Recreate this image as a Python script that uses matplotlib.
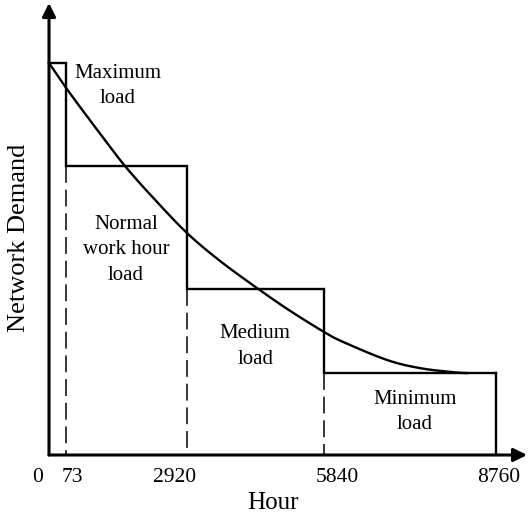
import numpy as np
import matplotlib
matplotlib.use("Agg")
import matplotlib.pyplot as plt
from matplotlib.scale import FuncScale
from matplotlib.transforms import ScaledTranslation

# ---- data ----
tick_hours = [0, 73, 2920, 5840, 8760]
tick_labels = ["0", "73", "2920", "5840", "8760"]
# schematic (non-proportional) display positions of the tick hours (fraction of axis)
tick_display = [0.0, 0.038, 0.309, 0.616, 1.0]

step_hours = [0, 73, 2920, 5840, 8760]
step_levels = [87.1, 64.2, 36.9, 18.2, 18.2]

curve_hours = [0, 73, 755, 1461, 2167, 2920, 3623, 4433,
               5116, 5840, 6163, 6909, 7470, 8030, 8268]
curve_demand = [87.1, 81.6, 72.9, 64.2, 56.7, 49.3, 43.1, 36.9,
                32.0, 27.3, 25.1, 21.1, 19.3, 18.4, 18.2]

region_labels = ["Maximum\nload", "Normal\nwork hour\nload", "Medium\nload", "Minimum\nload"]
region_label_hours = [1290, 1485, 4370, 7380]
region_label_levels = [82.0, 45.6, 24.1, 9.6]

# ---- figure ----
W, H = 528, 517
fig = plt.figure(figsize=(W / 100, H / 100), dpi=100)
ax = fig.add_axes([49 / W, (H - 455) / H, (496 - 49) / W, 450 / H])


def fwd(x):
    x = np.asarray(x, dtype=float)
    out = np.interp(x, tick_hours, tick_display)
    out = np.where(x > 8760, 1.0 + (x - 8760) / 8760, out)
    out = np.where(x < 0, x / 73 * 0.038, out)
    return out


def inv(y):
    y = np.asarray(y, dtype=float)
    out = np.interp(y, tick_display, tick_hours)
    out = np.where(y > 1.0, 8760 + (y - 1.0) * 8760, out)
    out = np.where(y < 0, y / 0.038 * 73, out)
    return out


ax.set_xscale(FuncScale(ax, (fwd, inv)))
ax.set_xlim(0, 8760)
ax.set_ylim(0, 100)

serif = ["Liberation Serif", "DejaVu Serif"]
lw = 1.7

# step function
ax.step(step_hours, step_levels, where="post", color="black", lw=lw, clip_on=False,
        solid_joinstyle="miter")
ax.plot([step_hours[-1], step_hours[-1]], [step_levels[-1], 0], color="black", lw=lw,
        clip_on=False)
# dashed drop lines
for h, lev in zip(step_hours[1:4], step_levels[1:4]):
    ax.plot([h, h], [lev, 0], color="black", lw=1.1, dashes=(11, 4.5), clip_on=False)

# load duration curve: smooth (Catmull-Rom) rendering through the read points,
# done in display space so the schematic x-scale does not create kinks
px = fwd(curve_hours) * 447.0
py = np.asarray(curve_demand) * 4.5
P = np.column_stack([px, py])
P_ext = np.vstack([2 * P[0] - P[1], P, 2 * P[-1] - P[-2]])
seg = []
tt = np.linspace(0, 1, 20, endpoint=False)
for i in range(1, len(P_ext) - 2):
    p0, p1, p2, p3 = P_ext[i - 1], P_ext[i], P_ext[i + 1], P_ext[i + 2]
    t = tt[:, None]
    seg.append(0.5 * ((2 * p1) + (-p0 + p2) * t + (2 * p0 - 5 * p1 + 4 * p2 - p3) * t ** 2
                      + (-p0 + 3 * p1 - 3 * p2 + p3) * t ** 3))
seg.append(P[-1][None, :])
S = np.vstack(seg)
ax.plot(inv(S[:, 0] / 447.0), S[:, 1] / 4.5, color="black", lw=lw, clip_on=False)

# region labels
for t, hx, yy in zip(region_labels, region_label_hours, region_label_levels):
    ax.text(hx, yy, t, ha="center", va="center", family=serif, fontsize=15,
            linespacing=1.45)

# axes with arrows
for s in ax.spines.values():
    s.set_visible(False)
ax.annotate("", xy=(1.0694, 0), xytext=(0, 0), xycoords="axes fraction",
            arrowprops=dict(arrowstyle="-|>", lw=2.2, color="black", mutation_scale=20,
                            shrinkA=0, shrinkB=0), annotation_clip=False)
ax.annotate("", xy=(0, 1.0044), xytext=(0, 0), xycoords="axes fraction",
            arrowprops=dict(arrowstyle="-|>", lw=2.2, color="black", mutation_scale=20,
                            shrinkA=0, shrinkB=0), annotation_clip=False)

ax.set_xticks(tick_hours)
ax.set_xticklabels(tick_labels, family=serif, fontsize=15.5)
ax.tick_params(axis="x", length=0, pad=9)
ax.set_yticks([])
offsets_px = [-11, 6, -13, 13, 3]
for lab, dx in zip(ax.get_xticklabels(), offsets_px):
    lab.set_transform(lab.get_transform() + ScaledTranslation(dx / 100, 0, fig.dpi_scale_trans))

ax.set_xlabel("Hour", family=serif, fontsize=18, labelpad=4)
ax.text(-30 / 447, (455 - 238) / 450, "Network Demand", transform=ax.transAxes,
        rotation=90, ha="center", va="center", family=serif, fontsize=19)

fig.savefig("out.png", dpi=100)
